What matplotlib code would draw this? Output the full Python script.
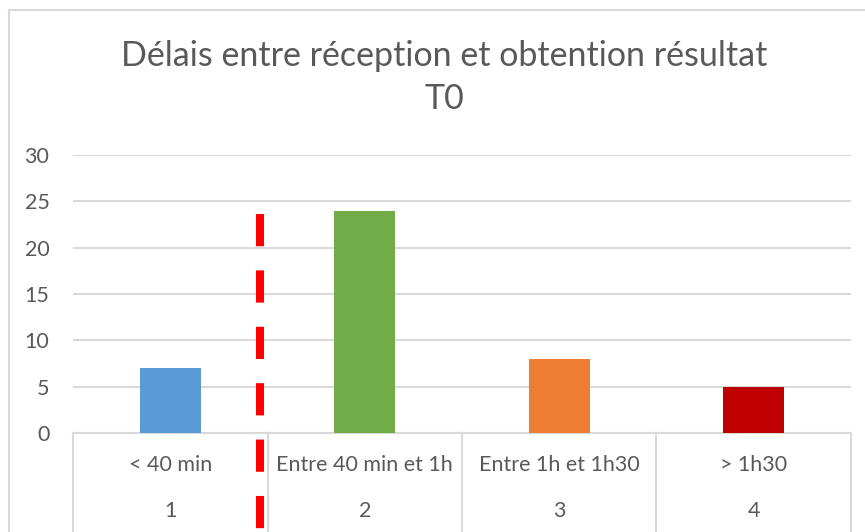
import matplotlib
matplotlib.use('Agg')
from matplotlib import pyplot as plt
import matplotlib.transforms as mtrans

plt.rcParams['font.family'] = ['Lato', 'DejaVu Sans']

categories = ["< 40 min", "Entre 40 min et 1h", "Entre 1h et 1h30", "> 1h30"]
numbers = ["1", "2", "3", "4"]
values = [7, 24, 8, 5]
bar_colors = ['#5B9BD5', '#70AD47', '#ED7D31', '#C00000']
yticks = [0, 5, 10, 15, 20, 25, 30]

# red dashed marker between cat 1 and 2
marker_x = 0.46
marker_top = 23.6

txt = '#595959'
grid = '#D9D9D9'

fig = plt.figure(figsize=(8.65, 5.32), dpi=100)
ax = fig.add_axes([0.0844, 0.1861, 0.8994, 0.5225])

x = list(range(len(values)))
ax.bar(x, values, width=0.315, color=bar_colors, zorder=3)

ax.set_xlim(-0.5, len(values) - 0.5)
ax.set_ylim(0, 30)
ax.set_yticks(yticks)
ax.yaxis.grid(True, color=grid, linewidth=1.5, zorder=0)
ax.tick_params(axis='y', length=0, pad=17, labelsize=15.5, labelcolor=txt)
ax.set_xticks([])
for sp in ['top', 'right', 'left']:
    ax.spines[sp].set_visible(False)
ax.spines['bottom'].set_color(grid)
ax.spines['bottom'].set_linewidth(1.5)

# multi-level category axis
blend = mtrans.blended_transform_factory(ax.transData, ax.transAxes)
for i in range(len(values) + 1):
    ax.plot([i - 0.5, i - 0.5], [0, -0.36], transform=blend, color=grid,
            linewidth=1.5, clip_on=False)
for i, (c, n) in enumerate(zip(categories, numbers)):
    ax.text(i, -0.115, c, transform=blend, ha='center', va='center',
            fontsize=15.5, color=txt)
    ax.text(i, -0.281, n, transform=blend, ha='center', va='center',
            fontsize=15.5, color=txt)

ax.plot([marker_x, marker_x], [marker_top, -11], color='#FF0000', linewidth=5.8,
        linestyle=(0, (4, 3)), solid_capstyle='butt', dash_capstyle='butt',
        clip_on=False, zorder=4)

fig.text(0.514, 0.854, "Délais entre réception et obtention résultat\nT0",
         ha='center', va='center', fontsize=24.5, color=txt, linespacing=1.41)

# chart frame
fig.add_artist(plt.Line2D([9 / 865, 9 / 865], [0, 1 - 10 / 532], color=grid,
                          linewidth=1.5, transform=fig.transFigure))
fig.add_artist(plt.Line2D([9 / 865, 1], [1 - 10 / 532, 1 - 10 / 532], color=grid,
                          linewidth=1.5, transform=fig.transFigure))

fig.savefig('out.png', dpi=100)
